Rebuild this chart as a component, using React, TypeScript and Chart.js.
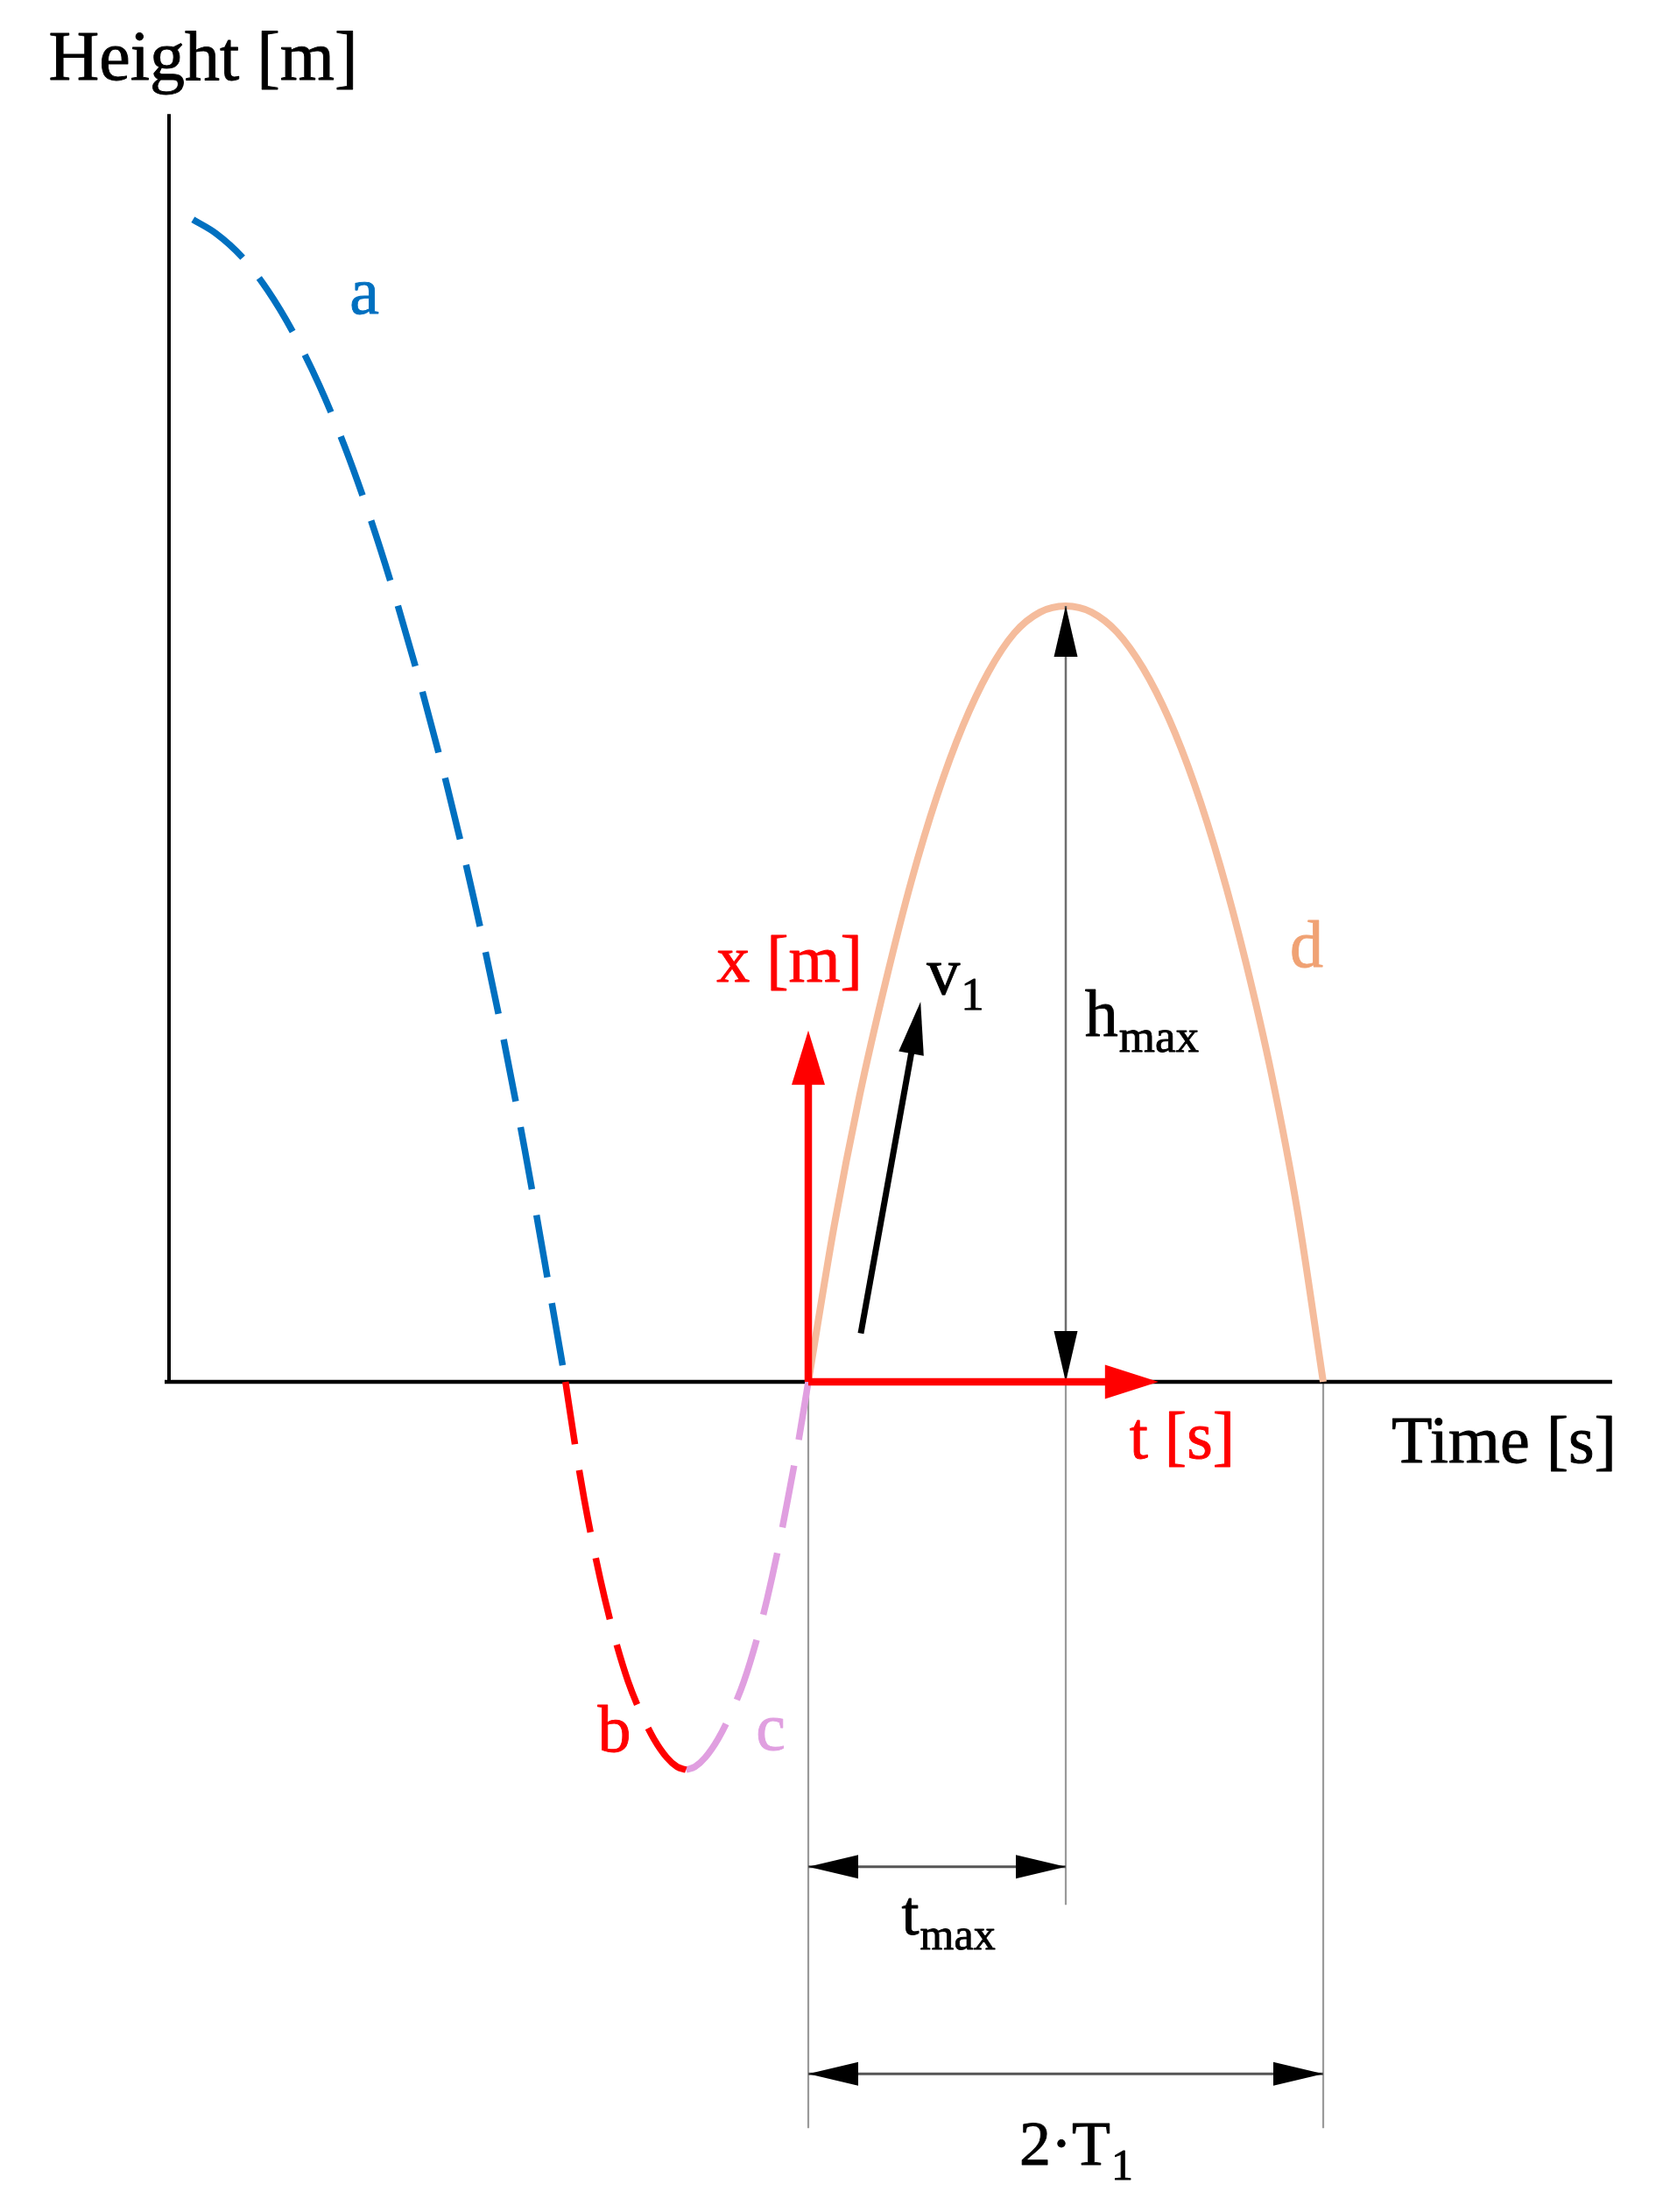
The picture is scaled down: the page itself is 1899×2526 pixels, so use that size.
import React, { useEffect, useRef } from "react";
import { Chart, registerables } from "chart.js";

Chart.register(...registerables);

// ---- data (x: time in s with T1 = 1, y: height in m with hmax = 10) ----
const curveA = [
  { x: -2.39, y: 14.98 }, { x: -2.3, y: 14.8 }, { x: -2.2, y: 14.5 },
  { x: -2.1, y: 14.07 }, { x: -2.0, y: 13.52 }, { x: -1.9, y: 12.85 },
  { x: -1.8, y: 12.05 }, { x: -1.7, y: 11.12 }, { x: -1.6, y: 10.07 },
  { x: -1.5, y: 8.91 }, { x: -1.4, y: 7.64 }, { x: -1.3, y: 6.24 },
  { x: -1.2, y: 4.69 }, { x: -1.1, y: 2.97 }, { x: -1.0, y: 1.09 },
  { x: -0.943, y: 0 },
];
const curveB = [
  { x: -0.943, y: 0 }, { x: -0.906, y: -0.81 }, { x: -0.87, y: -1.52 },
  { x: -0.83, y: -2.2 }, { x: -0.79, y: -2.8 }, { x: -0.75, y: -3.32 },
  { x: -0.7, y: -3.86 }, { x: -0.65, y: -4.27 }, { x: -0.6, y: -4.6 },
  { x: -0.55, y: -4.84 }, { x: -0.51, y: -4.96 }, { x: -0.475, y: -5.0 },
];
const curveC = [
  { x: -0.475, y: -5.0 }, { x: -0.44, y: -4.96 }, { x: -0.4, y: -4.84 },
  { x: -0.35, y: -4.6 }, { x: -0.3, y: -4.27 }, { x: -0.25, y: -3.86 },
  { x: -0.2, y: -3.32 }, { x: -0.16, y: -2.8 }, { x: -0.12, y: -2.2 },
  { x: -0.08, y: -1.52 }, { x: -0.04, y: -0.8 }, { x: 0, y: 0 },
];
const curveD = [
  { x: 0, y: 0 }, { x: 0.1, y: 2.0 }, { x: 0.2, y: 3.7 }, { x: 0.3, y: 5.15 },
  { x: 0.4, y: 6.45 }, { x: 0.5, y: 7.55 }, { x: 0.6, y: 8.45 }, { x: 0.7, y: 9.15 },
  { x: 0.8, y: 9.65 }, { x: 0.9, y: 9.92 }, { x: 1.0, y: 10.0 }, { x: 1.1, y: 9.92 },
  { x: 1.2, y: 9.66 }, { x: 1.3, y: 9.2 }, { x: 1.4, y: 8.55 }, { x: 1.5, y: 7.7 },
  { x: 1.6, y: 6.65 }, { x: 1.7, y: 5.4 }, { x: 1.8, y: 3.95 }, { x: 1.9, y: 2.2 },
  { x: 2.0, y: 0 },
];

// axes of the sketch
const heightAxis = { x: -2.483, y0: 0, y1: 16.34 };
const timeAxis = { y: 0, x0: -2.5, x1: 3.122 };

// extension (dimension) lines
const extensionLines = [
  { x: 0, y0: 0, y1: -9.62 },
  { x: 1, y0: 0, y1: -6.74 },
  { x: 2, y0: 0, y1: -9.62 },
];

// single arrows
const arrows = [
  { x0: 0, y0: 0, x1: 0, y1: 4.53, color: "#FF0000", width: 8.5, headLen: 62, headW: 38 },
  { x0: 0, y0: 0, x1: 1.36, y1: 0, color: "#FF0000", width: 8.5, headLen: 61, headW: 39 },
  { x0: 0.204, y0: 0.624, x1: 0.436, y1: 4.898, color: "#000000", width: 7, headLen: 60, headW: 29 },
];

// double-headed dimension arrows
const dimArrows = [
  { x0: 1, y0: 0, x1: 1, y1: 10, line: "#6e6e6e", width: 2.5, headLen: 58, headW: 27 },
  { x0: 0, y0: -6.25, x1: 1, y1: -6.25, line: "#555555", width: 3, headLen: 57, headW: 27 },
  { x0: 0, y0: -8.92, x1: 2, y1: -8.92, line: "#555555", width: 3, headLen: 57, headW: 27 },
];

// labels: center x, baseline y (data units)
const labels = [
  { x: -2.35, y: 16.78, size: 80, color: "#000000", parts: [{ t: "Height [m]" }] },
  { x: -1.724, y: 13.77, size: 76, color: "#0070C0", parts: [{ t: "a" }] },
  { x: -0.753, y: -4.76, size: 76, color: "#FF0000", parts: [{ t: "b" }] },
  { x: -0.146, y: -4.74, size: 76, color: "#E09FE0", parts: [{ t: "c" }] },
  { x: 1.935, y: 5.35, size: 76, color: "#F0A274", parts: [{ t: "d" }] },
  { x: -0.073, y: 5.16, size: 76, color: "#FF0000", parts: [{ t: "x [m]" }] },
  { x: 0.57, y: 5.0, size: 76, color: "#000000", parts: [{ t: "v" }, { t: "1", sub: true }] },
  { x: 1.294, y: 4.46, size: 76, color: "#000000", parts: [{ t: "h" }, { t: "max", sub: true }] },
  { x: 1.452, y: -0.98, size: 76, color: "#FF0000", parts: [{ t: "t [s]" }] },
  { x: 2.702, y: -1.04, size: 76, color: "#000000", parts: [{ t: "Time [s]" }] },
  { x: 0.543, y: -7.12, size: 72, color: "#000000", parts: [{ t: "t" }, { t: "max", sub: true }] },
  { x: 1.039, y: -10.09, size: 72, color: "#000000", parts: [{ t: "2·T" }, { t: "1", sub: true }] },
];

const X_MIN = -923 / 294;
const X_MAX = (1899 - 923) / 294;
const Y_MAX = 1578 / 88.6;
const Y_MIN = (1578 - 2526) / 88.6;

const FONT = '"Liberation Serif", "Times New Roman", serif';

function head(ctx: CanvasRenderingContext2D, tx: number, ty: number, fx: number, fy: number, len: number, w: number, color: string) {
  const ang = Math.atan2(ty - fy, tx - fx);
  ctx.save();
  ctx.translate(tx, ty);
  ctx.rotate(ang);
  ctx.beginPath();
  ctx.moveTo(0, 0);
  ctx.lineTo(-len, w / 2);
  ctx.lineTo(-len, -w / 2);
  ctx.closePath();
  ctx.fillStyle = color;
  ctx.fill();
  ctx.restore();
}

const sketchPlugin = {
  id: "sketch",
  beforeDatasetsDraw(chart: any) {
    const ctx: CanvasRenderingContext2D = chart.ctx;
    const sx = chart.scales.x, sy = chart.scales.y;
    ctx.save();
    ctx.strokeStyle = "#9a9a9a";
    ctx.lineWidth = 2.2;
    for (const l of extensionLines) {
      ctx.beginPath();
      ctx.moveTo(sx.getPixelForValue(l.x), sy.getPixelForValue(l.y0));
      ctx.lineTo(sx.getPixelForValue(l.x), sy.getPixelForValue(l.y1));
      ctx.stroke();
    }
    ctx.strokeStyle = "#000000";
    ctx.lineWidth = 4;
    ctx.beginPath();
    ctx.moveTo(sx.getPixelForValue(heightAxis.x), sy.getPixelForValue(heightAxis.y0));
    ctx.lineTo(sx.getPixelForValue(heightAxis.x), sy.getPixelForValue(heightAxis.y1));
    ctx.stroke();
    ctx.lineWidth = 4.5;
    ctx.beginPath();
    ctx.moveTo(sx.getPixelForValue(timeAxis.x0), sy.getPixelForValue(timeAxis.y));
    ctx.lineTo(sx.getPixelForValue(timeAxis.x1), sy.getPixelForValue(timeAxis.y));
    ctx.stroke();
    ctx.restore();
  },
  afterDatasetsDraw(chart: any) {
    const ctx: CanvasRenderingContext2D = chart.ctx;
    const sx = chart.scales.x, sy = chart.scales.y;
    ctx.save();
    for (const a of dimArrows) {
      const x0 = sx.getPixelForValue(a.x0), y0 = sy.getPixelForValue(a.y0);
      const x1 = sx.getPixelForValue(a.x1), y1 = sy.getPixelForValue(a.y1);
      ctx.strokeStyle = a.line;
      ctx.lineWidth = a.width;
      ctx.beginPath();
      ctx.moveTo(x0, y0);
      ctx.lineTo(x1, y1);
      ctx.stroke();
      head(ctx, x1, y1, x0, y0, a.headLen, a.headW, "#000000");
      head(ctx, x0, y0, x1, y1, a.headLen, a.headW, "#000000");
    }
    for (const a of arrows) {
      const x0 = sx.getPixelForValue(a.x0), y0 = sy.getPixelForValue(a.y0);
      const x1 = sx.getPixelForValue(a.x1), y1 = sy.getPixelForValue(a.y1);
      const d = Math.hypot(x1 - x0, y1 - y0);
      const ex = x1 - ((x1 - x0) / d) * (a.headLen - 2);
      const ey = y1 - ((y1 - y0) / d) * (a.headLen - 2);
      ctx.strokeStyle = a.color;
      ctx.lineWidth = a.width;
      ctx.lineCap = "butt";
      ctx.beginPath();
      ctx.moveTo(x0, y0);
      ctx.lineTo(ex, ey);
      ctx.stroke();
      head(ctx, x1, y1, x0, y0, a.headLen, a.headW, a.color);
    }
    ctx.textBaseline = "alphabetic";
    ctx.textAlign = "left";
    ctx.lineJoin = "round";
    for (const l of labels) {
      const subSize = Math.round(l.size * 0.7);
      let total = 0;
      const widths: number[] = [];
      for (const p of l.parts) {
        ctx.font = `${(p as any).sub ? subSize : l.size}px ${FONT}`;
        const w = ctx.measureText(p.t).width;
        widths.push(w);
        total += w;
      }
      let cx = sx.getPixelForValue(l.x) - total / 2;
      const by = sy.getPixelForValue(l.y);
      ctx.fillStyle = l.color;
      ctx.strokeStyle = l.color;
      ctx.lineWidth = 0.9;
      l.parts.forEach((p: any, i: number) => {
        ctx.font = `${p.sub ? subSize : l.size}px ${FONT}`;
        const yy = p.sub ? by + l.size * 0.24 : by;
        ctx.fillText(p.t, cx, yy);
        ctx.strokeText(p.t, cx, yy);
        cx += widths[i] + (p.sub ? 0 : 1);
      });
    }
    ctx.restore();
  },
};

export default function App() {
  const ref = useRef<HTMLCanvasElement>(null);
  useEffect(() => {
    const canvas = ref.current!;
    const dashed = (data: any[], color: string) => ({
      data,
      borderColor: color,
      borderWidth: 7.5,
      borderDash: [72, 30],
      borderCapStyle: "butt" as const,
      showLine: true,
      pointRadius: 0,
      fill: false,
      cubicInterpolationMode: "monotone" as const,
    });
    const chart = new Chart(canvas, {
      type: "scatter",
      data: {
        datasets: [
          dashed(curveA, "#0070C0"),
          dashed(curveB, "#FF0000"),
          dashed(curveC, "#E09FE0"),
          {
            data: curveD,
            borderColor: "#F5BC9C",
            borderWidth: 8,
            showLine: true,
            pointRadius: 0,
            fill: false,
            cubicInterpolationMode: "monotone",
          } as any,
        ],
      },
      options: {
        animation: false,
        responsive: false,
        maintainAspectRatio: false,
        devicePixelRatio: 1,
        layout: { padding: 0 },
        plugins: { legend: { display: false }, tooltip: { enabled: false } },
        events: [],
        scales: {
          x: { type: "linear", min: X_MIN, max: X_MAX, display: false },
          y: { type: "linear", min: Y_MIN, max: Y_MAX, display: false },
        },
      },
      plugins: [sketchPlugin as any],
    });
    return () => chart.destroy();
  }, []);
  return (
    <div style={{ position: "absolute", left: 0, top: 0, width: 1899, height: 2526, background: "#ffffff" }}>
      <canvas ref={ref} width={1899} height={2526} style={{ display: "block", width: 1899, height: 2526 }} />
    </div>
  );
}
